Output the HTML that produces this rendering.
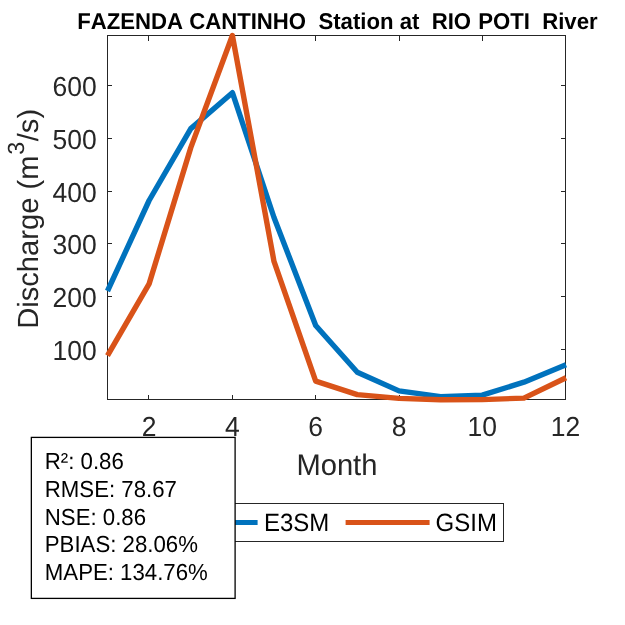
<!DOCTYPE html>
<html>
<head>
<meta charset="utf-8">
<title>FAZENDA CANTINHO Station at RIO POTI River</title>
<style>
html,body{margin:0;padding:0;background:#fff;}
body{width:625px;height:625px;overflow:hidden;}
svg{display:block;will-change:transform;}
text{font-family:"Liberation Sans",sans-serif;white-space:pre;font-kerning:none;text-rendering:geometricPrecision;}
.tt{font-size:22.16px;font-weight:bold;fill:#000;}
.tk{font-size:26.5px;fill:#262626;}
.lb{font-size:29.15px;fill:#262626;}
.st{font-size:22.22px;fill:#000;}
.lg{font-size:24px;fill:#000;}
</style>
</head>
<body>
<svg width="625" height="625" viewBox="0 0 625 625">
<rect x="0" y="0" width="625" height="625" fill="#fff"/>
<!-- axes box and ticks -->
<g stroke="#262626" stroke-width="1" fill="none" shape-rendering="crispEdges">
<rect x="107.5" y="35.5" width="458" height="364"/>
<path d="M148.5 399v-4M232.5 399v-4M315.5 399v-4M399.5 399v-4M482.5 399v-4M148.5 36v5M232.5 36v5M315.5 36v5M399.5 36v5M482.5 36v5"/>
<path d="M108 85.5h4M108 138.5h4M108 191.5h4M108 243.5h4M108 296.5h4M108 349.5h4M565 85.5h-4M565 138.5h-4M565 191.5h-4M565 243.5h-4M565 296.5h-4M565 349.5h-4"/>
</g>
<!-- data lines -->
<polyline fill="none" stroke="#0072BD" stroke-width="5.4" stroke-linejoin="round" stroke-linecap="butt" points="107.5,291.0 149.1,200.5 190.8,128.6 232.4,92.7 274.0,217.5 315.7,325.5 357.3,372.2 399.0,390.9 440.6,396.6 482.2,395.2 523.9,382.2 566.0,364.8"/>
<polyline fill="none" stroke="#D95319" stroke-width="5.4" stroke-linejoin="round" stroke-linecap="butt" points="107.5,355.7 149.1,283.9 190.8,147.6 232.4,35.5 274.0,261.4 315.7,381.1 357.3,394.6 399.0,398.4 440.6,399.7 482.2,399.6 523.9,398.1 566.0,377.8"/>
<!-- title -->
<text transform="translate(337.4,28.9) scale(1,1.03)" class="tt" text-anchor="middle" xml:space="preserve">FAZENDA CANTINHO  Station at  RIO <tspan dx="1">POTI  River</tspan></text>
<!-- y tick labels -->
<g class="tk" text-anchor="end">
<text transform="translate(96.7,95.7) scale(1,1.04)">600</text>
<text transform="translate(96.7,148.7) scale(1,1.04)">500</text>
<text transform="translate(96.7,201.7) scale(1,1.04)">400</text>
<text transform="translate(96.7,253.7) scale(1,1.04)">300</text>
<text transform="translate(96.7,306.7) scale(1,1.04)">200</text>
<text transform="translate(96.7,359.7) scale(1,1.04)">100</text>
</g>
<!-- x tick labels -->
<g class="tk" text-anchor="middle">
<text transform="translate(149.1,435.7) scale(1,1.04)">2</text>
<text transform="translate(232.4,435.7) scale(1,1.04)">4</text>
<text transform="translate(315.7,435.7) scale(1,1.04)">6</text>
<text transform="translate(399.0,435.7) scale(1,1.04)">8</text>
<text transform="translate(482.2,435.7) scale(1,1.04)">10</text>
<text transform="translate(565.5,435.7) scale(1,1.04)">12</text>
</g>
<!-- x label -->
<text transform="translate(336.9,474.7) scale(1,1.02)" class="lb" text-anchor="middle">Month</text>
<!-- y label -->
<text class="lb" transform="translate(38.1,328.8) rotate(-90)" xml:space="preserve">Discharge (m<tspan font-size="23.3" dy="-13.8" dx="0.9">3</tspan><tspan dy="13.8" dx="0.4">/s)</tspan></text>
<!-- legend -->
<rect x="166.5" y="503.5" width="337" height="38" fill="#fff" stroke="#262626" stroke-width="1" shape-rendering="crispEdges"/>
<line x1="174" y1="522.5" x2="257.6" y2="522.5" stroke="#0072BD" stroke-width="5.2"/>
<text transform="translate(264.0,530.9) scale(1,1.04)" class="lg">E3SM</text>
<line x1="345.6" y1="522.5" x2="429.6" y2="522.5" stroke="#D95319" stroke-width="5.2"/>
<text transform="translate(435.6,530.9) scale(1,1.04)" class="lg">GSIM</text>
<!-- stats box -->
<rect x="31.35" y="437.4" width="203.75" height="161" fill="#fff" stroke="#000" stroke-width="1.3"/>
<g class="st">
<text transform="translate(44.8,469.0) scale(1,1.04)">R²: 0.86</text>
<text transform="translate(44.8,496.7) scale(1,1.04)">RMSE: 78.67</text>
<text transform="translate(44.8,524.5) scale(1,1.04)">NSE: 0.86</text>
<text transform="translate(44.8,552.2) scale(1,1.04)">PBIAS: 28.06%</text>
<text transform="translate(44.8,580.0) scale(1,1.04)">MAPE: 134.76%</text>
</g>
</svg>
</body>
</html>
